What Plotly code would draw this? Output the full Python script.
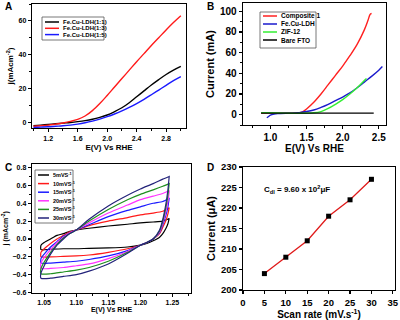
import plotly.graph_objects as go

# ---------------- data ----------------
# Panel A: LSV of Fe.Cu-LDH ratios
a_E = [1.0, 1.1, 1.2, 1.3, 1.4, 1.5, 1.6, 1.7, 1.8, 1.9, 2.0, 2.1, 2.2, 2.3, 2.4, 2.5, 2.6, 2.7, 2.8, 2.9, 3.0]
a_j11 = [-2.2, -1.8, -1.4, -1.0, -0.6, -0.2, 0.3, 0.9, 1.7, 2.8, 4.2, 6.2, 8.5, 11.5, 15.0, 18.5, 22.0, 25.2, 28.2, 30.8, 33.0]
a_j13 = [-2.5, -2.2, -1.8, -1.2, -0.5, 0.4, 1.6, 3.6, 6.8, 11.0, 15.8, 20.8, 25.8, 30.8, 35.8, 40.6, 45.4, 50.0, 54.6, 59.0, 63.0]
a_j15 = [-3.2, -3.0, -2.8, -2.5, -2.2, -1.8, -1.2, -0.4, 0.6, 1.8, 3.2, 4.8, 6.6, 8.7, 11.0, 13.5, 16.2, 19.0, 21.8, 24.6, 27.0]
a_names = ["Fe.Cu-LDH(1:1)", "Fe.Cu-LDH(1:3)", "Fe.Cu-LDH(1:5)"]

# Panel B: LSV of composite vs components
b_comp_E = [0.87, 1.0, 1.2, 1.4, 1.45, 1.5, 1.6, 1.7, 1.8, 1.9, 2.0, 2.1, 2.2, 2.3, 2.35, 2.38, 2.4]
b_comp_I = [1.5, 1.5, 1.5, 1.8, 3.0, 5.5, 12.0, 20.0, 29.0, 38.0, 47.0, 57.0, 68.0, 82.0, 91.0, 97.0, 98.0]
b_ldh_E = [0.95, 0.97, 1.0, 1.05, 1.1, 1.3, 1.4, 1.5, 1.6, 1.7, 1.8, 1.9, 2.0, 2.1, 2.2, 2.3, 2.4, 2.5, 2.55]
b_ldh_I = [-3.0, -2.0, -0.5, 0.5, 1.0, 1.5, 2.0, 3.0, 4.5, 7.0, 10.0, 13.5, 17.0, 21.0, 26.0, 31.5, 37.0, 43.0, 46.5]
b_zif_E = [0.87, 1.0, 1.2, 1.4, 1.6, 1.7, 1.8, 1.9, 2.0, 2.1, 2.2, 2.3, 2.33]
b_zif_I = [2.0, 1.8, 1.5, 1.3, 1.8, 3.0, 6.0, 10.0, 14.5, 20.0, 26.0, 33.0, 35.0]
b_fto_E = [0.87, 1.2, 1.6, 2.0, 2.43]
b_fto_I = [1.5, 1.5, 1.5, 1.5, 1.5]
b_names = ["Composite 1", "Fe.Cu-LDH", "ZIF-12", "Bare FTO"]

# Panel C: CV at different scan rates
c_names = ["5mVS<sup>-1</sup>", "10mVS<sup>-1</sup>", "15mVS<sup>-1</sup>",
           "20mVS<sup>-1</sup>", "25mVS<sup>-1</sup>", "30mVS<sup>-1</sup>"]
c_up_E = [1.045, 1.05, 1.06, 1.07, 1.08, 1.09, 1.10, 1.12, 1.15, 1.18, 1.20, 1.22, 1.235, 1.245]
c_low_E = [1.245, 1.243, 1.24, 1.235, 1.23, 1.22, 1.21, 1.20, 1.18, 1.15, 1.12, 1.10, 1.08, 1.06, 1.045]
c_up_5 = [-0.07, -0.04, 0.0, 0.04, 0.06, 0.085, 0.10, 0.12, 0.145, 0.165, 0.18, 0.19, 0.20, 0.23]
c_up_10 = [-0.15, -0.11, -0.05, 0.0, 0.04, 0.08, 0.10, 0.15, 0.20, 0.24, 0.27, 0.29, 0.31, 0.35]
c_up_15 = [-0.22, -0.17, -0.09, -0.03, 0.03, 0.07, 0.10, 0.16, 0.25, 0.32, 0.36, 0.40, 0.42, 0.46]
c_up_20 = [-0.27, -0.21, -0.12, -0.04, 0.02, 0.07, 0.10, 0.18, 0.29, 0.38, 0.44, 0.48, 0.51, 0.54]
c_up_25 = [-0.33, -0.26, -0.15, -0.06, 0.01, 0.06, 0.10, 0.20, 0.33, 0.44, 0.50, 0.55, 0.59, 0.62]
c_up_30 = [-0.38, -0.30, -0.17, -0.07, 0.0, 0.06, 0.10, 0.22, 0.37, 0.49, 0.56, 0.62, 0.67, 0.70]
c_low_5 = [0.23, 0.17, 0.12, 0.06, 0.02, -0.02, -0.05, -0.07, -0.09, -0.10, -0.105, -0.11, -0.11, -0.115, -0.12]
c_low_10 = [0.35, 0.28, 0.21, 0.13, 0.06, 0.0, -0.04, -0.07, -0.11, -0.15, -0.18, -0.19, -0.195, -0.20, -0.20]
c_low_15 = [0.46, 0.36, 0.27, 0.16, 0.07, 0.0, -0.04, -0.07, -0.13, -0.19, -0.23, -0.25, -0.26, -0.27, -0.27]
c_low_20 = [0.53, 0.42, 0.31, 0.18, 0.08, 0.0, -0.04, -0.07, -0.14, -0.22, -0.28, -0.30, -0.32, -0.33, -0.33]
c_low_25 = [0.62, 0.49, 0.36, 0.20, 0.09, 0.0, -0.04, -0.07, -0.15, -0.25, -0.32, -0.35, -0.37, -0.39, -0.39]
c_low_30 = [0.70, 0.55, 0.40, 0.22, 0.10, 0.0, -0.04, -0.07, -0.16, -0.28, -0.36, -0.40, -0.42, -0.44, -0.44]

# Panel D: current vs scan rate
d_rate = [5, 10, 15, 20, 25, 30]
d_current = [204, 208, 212, 218, 222, 227]

# ---------------- styling ----------------
W, H = 400, 320
FONT = "Liberation Sans"
a_colors = ["#000000", "#ff1a1a", "#1a1aff"]
b_colors = ["#ff2020", "#1a1acc", "#33ee33", "#000000"]
c_colors = ["#000000", "#ff1a1a", "#1a1aff", "#ff33ff", "#1f8f1f", "#23237a"]

def px(x):
    return x / W

def py(y):
    return 1 - y / H

fig = go.Figure()

for y_vals, name, col in zip([a_j11, a_j13, a_j15], a_names, a_colors):
    fig.add_trace(go.Scatter(x=a_E, y=y_vals, mode="lines", name=name,
                             line=dict(color=col, width=1.4, shape="spline"),
                             xaxis="x", yaxis="y", showlegend=False))

b_series = [(b_comp_E, b_comp_I), (b_ldh_E, b_ldh_I), (b_zif_E, b_zif_I), (b_fto_E, b_fto_I)]
for (xs, ys), name, col in zip(b_series, b_names, b_colors):
    fig.add_trace(go.Scatter(x=xs, y=ys, mode="lines", name=name,
                             line=dict(color=col, width=1.4, shape="spline"),
                             xaxis="x2", yaxis="y2", showlegend=False))

c_ups = [c_up_5, c_up_10, c_up_15, c_up_20, c_up_25, c_up_30]
c_lows = [c_low_5, c_low_10, c_low_15, c_low_20, c_low_25, c_low_30]
for up, low, name, col in zip(c_ups, c_lows, c_names, c_colors):
    xs = c_up_E + c_low_E + [c_up_E[0]]
    ys = up + low + [up[0]]
    fig.add_trace(go.Scatter(x=xs, y=ys, mode="lines", name=name,
                             line=dict(color=col, width=1.2, shape="spline", smoothing=0.6),
                             xaxis="x3", yaxis="y3", showlegend=False))

fig.add_trace(go.Scatter(x=d_rate, y=d_current, mode="lines+markers",
                         line=dict(color="#e01a1a", width=1.3),
                         marker=dict(symbol="square", size=5, color="black"),
                         xaxis="x4", yaxis="y4", showlegend=False))


def axis(domain, anchor, rng, tick0, dtick, minor_dtick, tfs, fmt, title, title_fs, standoff):
    d = dict(domain=domain, anchor=anchor, range=rng, tick0=tick0, dtick=dtick,
             tickformat=fmt, automargin=False,
             ticks="outside", ticklen=3, tickwidth=1.2, tickcolor="black",
             showline=True, linewidth=1.3, linecolor="black", mirror=True,
             showgrid=False, zeroline=False,
             tickfont=dict(family=FONT, size=tfs, color="black", weight="bold"),
             title=dict(text=title, standoff=standoff,
                        font=dict(family=FONT, size=title_fs, color="black", weight="bold")))
    if minor_dtick:
        d["minor"] = dict(dtick=minor_dtick, tick0=tick0, ticks="outside", ticklen=2,
                          tickwidth=1, tickcolor="black")
    return d

fig.update_layout(
    width=W, height=H, margin=dict(l=0, r=0, t=0, b=0, autoexpand=False),
    paper_bgcolor="white", plot_bgcolor="white", showlegend=False,
    font=dict(family=FONT, color="black"),
    xaxis=axis([px(32), px(186)], "y", [0.98, 3.07], 1.2, 0.4, 0.2, 7, ".1f", "E(V) Vs RHE", 8, 3),
    yaxis=axis([py(128), py(4)], "x", [-3.5, 70], 0, 20, 10, 7, "d", "j(mAcm<sup>-2</sup>)", 8, 3),
    xaxis2=axis([px(243), px(386)], "y2", [0.62, 2.6], 1.0, 0.5, 0.25, 10, ".1f", "E(V) Vs RHE", 10, 0),
    yaxis2=axis([py(125), py(3)], "x2", [-10, 108], 0, 20, 10, 10, "d", "Current (mA)", 11, 3),
    xaxis3=axis([px(32), px(191)], "y3", [1.031, 1.279], 1.05, 0.05, 0.025, 7, ".2f", "E(V) Vs RHE", 7, 2),
    yaxis3=axis([py(292.5), py(164)], "x3", [-0.6, 0.84], -0.6, 0.2, 0.1, 7, ".1f", "j (mAcm<sup>-2</sup>)", 7, 3),
    xaxis4=axis([px(243), px(395)], "y4", [0, 35.5], 0, 5, None, 9.5, "d", "Scan rate (mV.s<sup>-1</sup>)", 10, 0),
    yaxis4=axis([py(290), py(167)], "x4", [200, 230], 200, 5, None, 9.5, "d", "Current (μA)", 11, 3),
)

shapes = []
annotations = []

# panel letters
for letter, (lx, ly) in zip("ABCD", [(3, 7), (205, 7), (3, 167), (205, 167)]):
    annotations.append(dict(text=letter, x=px(lx), y=py(ly), xref="paper", yref="paper",
                            xanchor="left", yanchor="middle", showarrow=False,
                            font=dict(family=FONT, size=10, color="black", weight="bold")))


def add_legend(x0, y0, x1, y1, names, colors, row0, row_h, line_x0, line_x1, fs):
    shapes.append(dict(type="rect", xref="paper", yref="paper",
                       x0=px(x0), x1=px(x1), y0=py(y1), y1=py(y0),
                       line=dict(color="#555555", width=0.8), fillcolor="white"))
    for i, (nm, col) in enumerate(zip(names, colors)):
        yy = row0 + i * row_h
        shapes.append(dict(type="line", xref="paper", yref="paper",
                           x0=px(line_x0), x1=px(line_x1), y0=py(yy), y1=py(yy),
                           line=dict(color=col, width=1.5)))
        annotations.append(dict(text=nm, x=px(line_x1 + 1.5), y=py(yy), xref="paper", yref="paper",
                                xanchor="left", yanchor="middle", showarrow=False,
                                font=dict(family=FONT, size=fs, color="black", weight="bold")))


add_legend(42, 17, 104, 40, a_names, a_colors, 22, 6.3, 45, 59, 6)
add_legend(260, 12, 316, 48, b_names, b_colors, 16, 8, 263, 277, 6.5)
add_legend(35, 170, 73, 223, c_names, c_colors, 175, 8.6, 38, 49, 5.5)

annotations.append(dict(text="C<sub>dl</sub> = 9.60 x 10<sup>2</sup>μF", x=px(262), y=py(189),
                        xref="paper", yref="paper", xanchor="left", yanchor="middle",
                        showarrow=False, font=dict(family=FONT, size=8, color="black", weight="bold")))

fig.update_layout(shapes=shapes, annotations=annotations)
fig.write_html("out.html", config={"displayModeBar": False, "staticPlot": True},
               post_script="document.body.style.margin='0';document.body.style.overflow='hidden';")
